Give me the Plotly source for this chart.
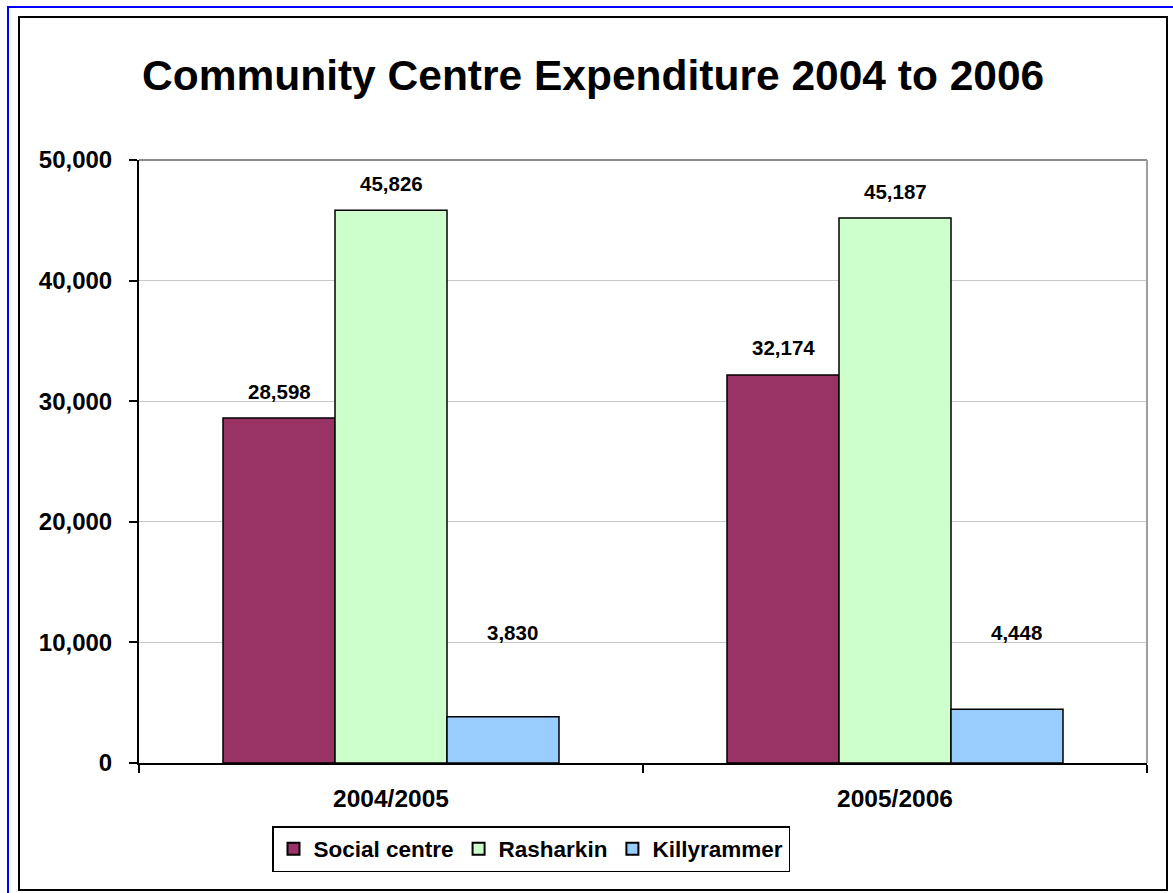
import plotly.graph_objects as go

# Expenditure per community centre, by financial year
years = ["2004/2005", "2005/2006"]
social_centre = [28598, 32174]
rasharkin = [45826, 45187]
killyrammer = [3830, 4448]

series_names = ["Social centre", "Rasharkin", "Killyrammer"]
series_values = [social_centre, rasharkin, killyrammer]
series_colors = ["#993366", "#CCFFCC", "#99CCFF"]

y_ticks = [0, 10000, 20000, 30000, 40000, 50000]

FONT = "Arial, Liberation Sans, Helvetica, sans-serif"
W, H = 1173, 893
# plot area in pixels
L, R, T, B = 139, 1147, 160, 763
BARGAP = 1 / 3

fig = go.Figure()
for name, vals, col in zip(series_names, series_values, series_colors):
    fig.add_trace(go.Bar(
        name=name, x=years, y=vals,
        marker=dict(color=col, line=dict(color="black", width=1.5)),
    ))


def px_x(px):
    return (px - L) / (R - L)


def px_y(py):
    return (B - py) / (B - T)


# value labels above each bar
n = len(series_names)
bar_w = (1 - BARGAP) / n
annotations = []
for i, (name, vals) in enumerate(zip(series_names, series_values)):
    for j, v in enumerate(vals):
        xpos = j + (i - (n - 1) / 2) * bar_w
        if name == "Killyrammer":
            ypos, yshift, xshift = 10800, 0, 9
        else:
            ypos, yshift, xshift = v, 27, 0
        annotations.append(dict(
            x=xpos, y=ypos, xref="x", yref="y", text=f"{v:,}",
            showarrow=False, yshift=yshift, xshift=xshift,
            xanchor="center", yanchor="middle",
            font=dict(family=FONT, size=20.5, color="black", weight="bold"),
        ))

# chart title
annotations.append(dict(
    x=px_x((19 + 1167) / 2), y=px_y(76), xref="paper", yref="paper",
    text="Community Centre Expenditure 2004 to 2006", showarrow=False,
    xanchor="center", yanchor="middle",
    font=dict(family=FONT, size=42.5, color="black", weight="bold"),
))

shapes = [
    # outer blue frame
    dict(type="rect", xref="paper", yref="paper",
         x0=px_x(8), x1=px_x(1190), y0=px_y(7), y1=px_y(910),
         line=dict(color="#0000FF", width=2), layer="below"),
    # chart area frame
    dict(type="rect", xref="paper", yref="paper",
         x0=px_x(19), x1=px_x(1167), y0=px_y(17), y1=px_y(890),
         line=dict(color="black", width=2), layer="below"),
    # plot area border, top and right
    dict(type="line", xref="paper", yref="paper", x0=0, x1=1, y0=1, y1=1,
         line=dict(color="#8C8C8C", width=2), layer="above"),
    dict(type="line", xref="paper", yref="paper", x0=1, x1=1, y0=0, y1=1,
         line=dict(color="#A0A0A0", width=2), layer="above"),
]

fig.update_layout(
    width=W, height=H,
    margin=dict(l=L, r=W - R, t=T, b=H - B, pad=0),
    paper_bgcolor="white", plot_bgcolor="white",
    barmode="group", bargap=BARGAP, bargroupgap=0,
    showlegend=True,
    legend=dict(
        orientation="h", x=px_x(531), y=px_y(849),
        xanchor="center", yanchor="middle",
        bordercolor="black", borderwidth=1.5, bgcolor="white",
        font=dict(family=FONT, size=22.5, color="black", weight="bold"),
        itemsizing="constant", traceorder="normal",
        itemwidth=30, tracegroupgap=0,
    ),
    annotations=annotations,
    shapes=shapes,
    xaxis=dict(
        type="category", tickson="boundaries",
        ticks="outside", ticklen=8, tickwidth=2, tickcolor="black",
        showline=True, linecolor="black", linewidth=2,
        showgrid=False, range=[-0.5, 1.5],
        tickfont=dict(family=FONT, size=24.5, color="black", weight="bold"),
        ticklabelstandoff=13,
    ),
    yaxis=dict(
        range=[0, 50000], tickvals=y_ticks, tickformat=",",
        ticks="outside", ticklen=8, tickwidth=2, tickcolor="black",
        showline=True, linecolor="black", linewidth=2,
        showgrid=True, gridcolor="#C8C8C8", gridwidth=1,
        zeroline=False,
        tickfont=dict(family=FONT, size=24, color="black", weight="bold"),
        ticklabelstandoff=12,
    ),
)

fig.write_html("out.html")
